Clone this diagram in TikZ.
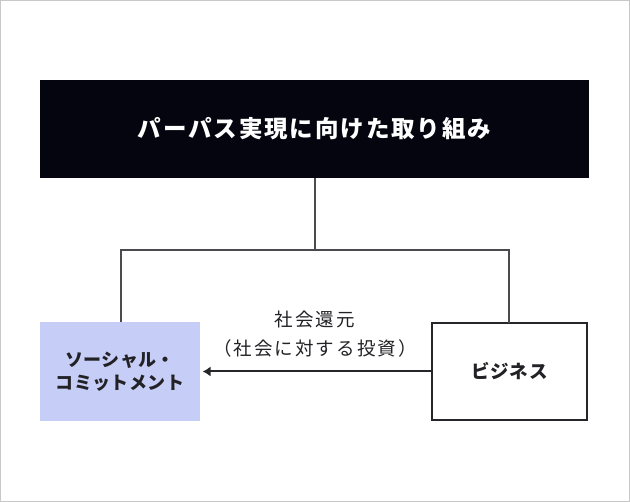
\documentclass[tikz,border=0pt]{standalone}
\usepackage{fontspec}
\setmainfont{Noto Sans CJK JP}
\usetikzlibrary{arrows.meta}
\definecolor{titlebg}{HTML}{05050F}
\definecolor{socblue}{HTML}{C6CDF6}
\definecolor{conn}{HTML}{4A4A4F}
\definecolor{boxline}{HTML}{26262A}
\definecolor{txt}{HTML}{222226}
\definecolor{frame}{HTML}{C8C8C8}
\tikzset{
  titlebox/.style={rectangle, fill=titlebg, text=white, inner sep=0pt, outer sep=0pt,
    minimum width=549pt, minimum height=98pt,
    font=\fontsize{23.5pt}{28pt}\selectfont\bfseries\addfontfeatures{LetterSpace=8}},
  socbox/.style={rectangle, fill=socblue, text=txt, inner sep=0pt, outer sep=0pt,
    minimum width=160pt, minimum height=99pt, align=center,
    font=\fontsize{18pt}{23pt}\selectfont\bfseries\addfontfeatures{LetterSpace=2}},
  bizbox/.style={rectangle, draw=boxline, line width=2pt, fill=white, text=txt, inner sep=0pt, outer sep=0pt,
    minimum width=155pt, minimum height=97pt,
    font=\fontsize{18.5pt}{22pt}\selectfont\bfseries\addfontfeatures{LetterSpace=5}},
  lbl/.style={text=txt, inner sep=0pt, align=center,
    font=\fontsize{18.5pt}{29pt}\selectfont\addfontfeatures{LetterSpace=11}},
  connector/.style={draw=conn, line width=2pt},
}
\begin{document}
\begin{tikzpicture}[x=1pt, y=-1pt]
\useasboundingbox (0,0) rectangle (630,502);
\draw[frame, line width=1pt] (0.5,0.5) rectangle (629.5,501.5);
\node[titlebox] (title) at (314.5,129) {パーパス実現に向けた取り組み};
\node[socbox] (soc) at (120,371.5) {ソーシャル・\\コミットメント};
\node[bizbox] (biz) at (509.5,371.5) {ビジネス};
\coordinate (j) at (315,250.5);
\coordinate (jl) at (121,250.5);
\coordinate (jr) at (509,250.5);
\draw[connector] (title.south -| j) -- (j);
\draw[connector, line cap=rect] (jl) -- (jr);
\draw[connector] (jl) -- (jl |- soc.north);
\draw[connector] (jr) -- (jr |- biz.north);
\draw[connector, draw=boxline, -{Latex[length=8pt,width=10pt]}, shorten >=2.5pt] (biz.west) -- (soc.east);
\node[lbl] (lab) at (315,334) {社会還元\\（社会に対する投資）};
\end{tikzpicture}
\end{document}
